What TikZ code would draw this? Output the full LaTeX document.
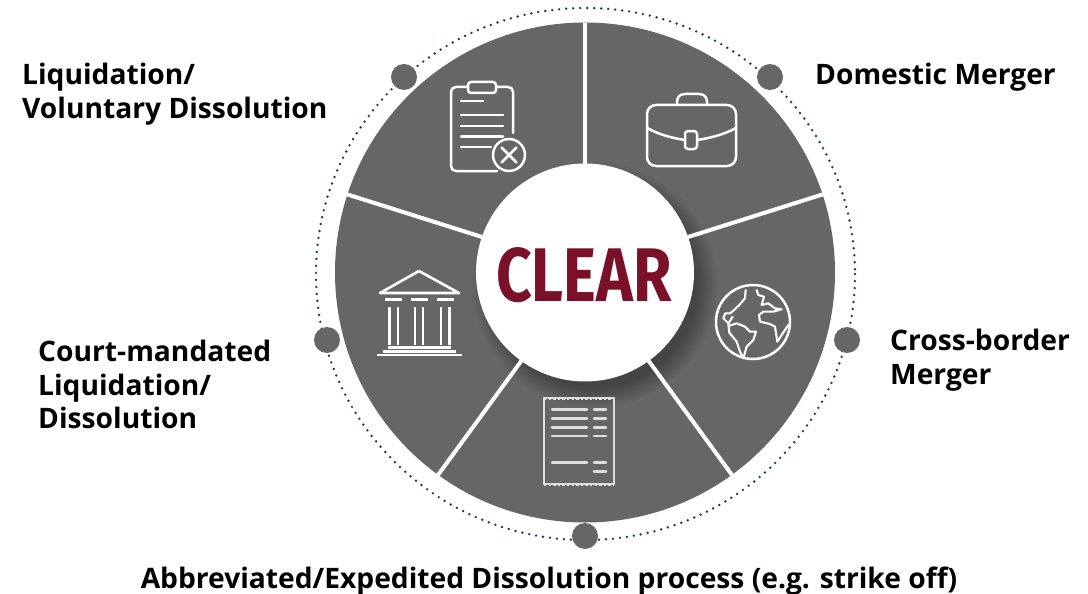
\documentclass[tikz,border=0pt]{standalone}
\usepackage{fontspec}
\setmainfont{Open Sans}
\newfontfamily\clearfont{Fira Sans}
\definecolor{diskgray}{HTML}{666666}
\definecolor{dotgray}{HTML}{666666}
\definecolor{navy}{HTML}{1F3864}
\definecolor{maroon}{HTML}{7A1128}
\definecolor{soft}{HTML}{DDDDDD}
\tikzset{
 label/.style={font=\fontsize{28.2}{33.5}\selectfont\bfseries,align=left,anchor=north west,inner sep=0pt,text=black},
 marker/.style={circle,fill=dotgray,minimum size=26pt,inner sep=0pt},
 sep/.style={draw=white,line width=4pt},
 icon/.style={draw=white,line width=2.5pt,line cap=round,line join=round},
 softicon/.style={draw=soft,line width=2.6pt,line cap=round,line join=round}
}
\begin{document}
\begin{tikzpicture}[x=1pt,y=-1pt]
\path[use as bounding box] (0,0) rectangle (1088,594);
\coordinate (c) at (585,272.5);
% dotted ring
\draw[navy,line width=2.7pt,line cap=round,dash pattern=on 0pt off 7.02pt] (585.5,274) ellipse[x radius=269.5,y radius=266];
% disk
\fill[diskgray] (c) circle[radius=250];
% soft shadow
\begin{scope}
\clip (c) circle[radius=250];
\foreach \r in {102,104.5,...,124} \fill[black,opacity=0.04] (595,285) circle[radius=\r];
\end{scope}
% separators
\coordinate (t0) at (585,23); \coordinate (t1) at (585,165);
\coordinate (l0) at (346,194); \coordinate (l1) at (482,237);
\coordinate (r0) at (824,194); \coordinate (r1) at (688,237);
\coordinate (a0) at (438,475); \coordinate (a1) at (522,360);
\coordinate (b0) at (732,475); \coordinate (b1) at (648,360);
\draw[sep] (t0)--(t1); \draw[sep] (l0)--(l1); \draw[sep] (r0)--(r1); \draw[sep] (a0)--(a1); \draw[sep] (b0)--(b1);
% centre
\node[circle,fill=white,minimum size=218pt,inner sep=0pt] (hub) at (c) {};
\node[inner sep=0pt,text=maroon,font=\clearfont\bfseries\fontsize{76}{76}\selectfont,xscale=0.82] (clear) at (584,275) {CLEAR};
% markers
\node[marker] (m1) at (404,77) {};
\node[marker] (m2) at (770,77) {};
\node[marker] (m3) at (847,340) {};
\node[marker] (m4) at (585,536) {};
\node[marker] (m5) at (327,340) {};
% labels
\node[label] (t1n) at (22,63) {Liquidation/\\Voluntary Dissolution};
\node[label] (t2n) at (815,63) {Domestic Merger};
\node[label] (t3n) at (890,329) {Cross-border\\Merger};
\node[label] (t4n) at (38,340) {Court-mandated\\Liquidation/\\Dissolution};
\node[label,anchor=north] (t5n) at (549,567) {Abbreviated/Expedited Dissolution process (e.g. strike off)};
% clipboard icon
\draw[icon] (468,87) -- (456,87) .. controls (453,87) and (451,89) .. (451,92) -- (451,166) .. controls (451,169) and (453,171) .. (456,171) -- (497,171);
\draw[icon] (496,87) -- (508,87) .. controls (511,87) and (513,89) .. (513,92) -- (513,133);
\draw[icon,rounded corners=3pt] (468,82) rectangle (496,93);
\draw[icon] (461,101)--(483,101) (461,115)--(503,115) (461,126)--(503,126) (461,136.5)--(503,136.5) (461,147)--(491,147);
\draw[icon] (509,155) circle[radius=16];
\draw[icon] (501.5,147.5)--(516.5,162.5) (501.5,162.5)--(516.5,147.5);
% briefcase
\draw[icon,rounded corners=9pt] (647,105) rectangle (736,166);
\draw[icon] (677,105) -- (677,102) .. controls (677,97) and (680,94) .. (685,94) -- (699,94) .. controls (704,94) and (707,97) .. (707,102) -- (707,105);
\draw[icon] (647,128) .. controls (660,135) and (672,138) .. (685,140);
\draw[icon] (697,140) .. controls (710,138) and (723,135) .. (736,128);
\draw[icon,rounded corners=3pt] (685,131) rectangle (697,149);
% temple
\draw[icon,line width=2.6pt] (419,271) -- (459,293) -- (380,293) -- cycle;
\draw[icon,line width=2.6pt,line cap=butt] (385,299.5)--(402,299.5) (411,299.5)--(428,299.5) (437,299.5)--(454,299.5);
\draw[icon,line width=2.6pt,line cap=butt] (389.5,307)--(389.5,345) (398,307)--(398,345) (415,307)--(415,345) (423,307)--(423,345) (441,307)--(441,345) (449.5,307)--(449.5,345);
\draw[icon,line width=2.6pt,line cap=butt] (388,347.5)--(451,347.5) (383,351.3)--(456,351.3) (377,355)--(462,355);
% receipt
\draw[softicon,line width=2pt] (544,398) -- (544,484);
\draw[softicon,line width=2pt] (614,398) -- (614,484);
\draw[softicon,line width=1.6pt] (544,398) -- (614,398);
\draw[softicon,line width=1.6pt] (544,484) -- (614,484);
\draw[softicon,line width=3pt,line cap=butt,dash pattern=on 2.4pt off 2.2pt] (544,398) -- (614,398);
\draw[softicon,line width=3pt,line cap=butt,dash pattern=on 2.4pt off 2.2pt] (544,484) -- (614,484);
\draw[softicon] (552,409.5)--(587,409.5) (594,409.5)--(606,409.5) (552,418.5)--(587,418.5) (594,418.5)--(606,418.5) (552,427.5)--(587,427.5) (594,427.5)--(606,427.5) (552,436)--(587,436) (594,436)--(606,436) (552,462.5)--(587,462.5) (594,462.5)--(606,462.5) (594,471.5)--(606,471.5);
% globe
\draw[icon] (753,322) circle[radius=37];
\begin{scope}[shift={(700,270)},x=0.3333pt,y=-0.3333pt]
\draw[icon,line width=2.1pt] (137,60) -- (135,85) -- (118,105) -- (100,122) -- (90,130) -- (76,130) -- (70,145) -- (85,160) -- (92,150) -- (98,140);
\draw[icon,line width=2.1pt] (85,160) -- (88,188) -- (110,215) -- (120,245) -- (130,265) -- (140,230) -- (160,210) -- (168,185) -- (150,185) -- (135,170) -- (110,160) -- (85,168);
\draw[icon,line width=2.1pt] (170,60) -- (175,75) -- (192,80) -- (185,105) -- (205,100) -- (225,115) -- (245,118) -- (220,125) -- (190,125) -- (177,135) -- (180,155) -- (210,162) -- (225,170) -- (232,215) -- (245,195) -- (265,165);
\end{scope}
\end{tikzpicture}
\end{document}
